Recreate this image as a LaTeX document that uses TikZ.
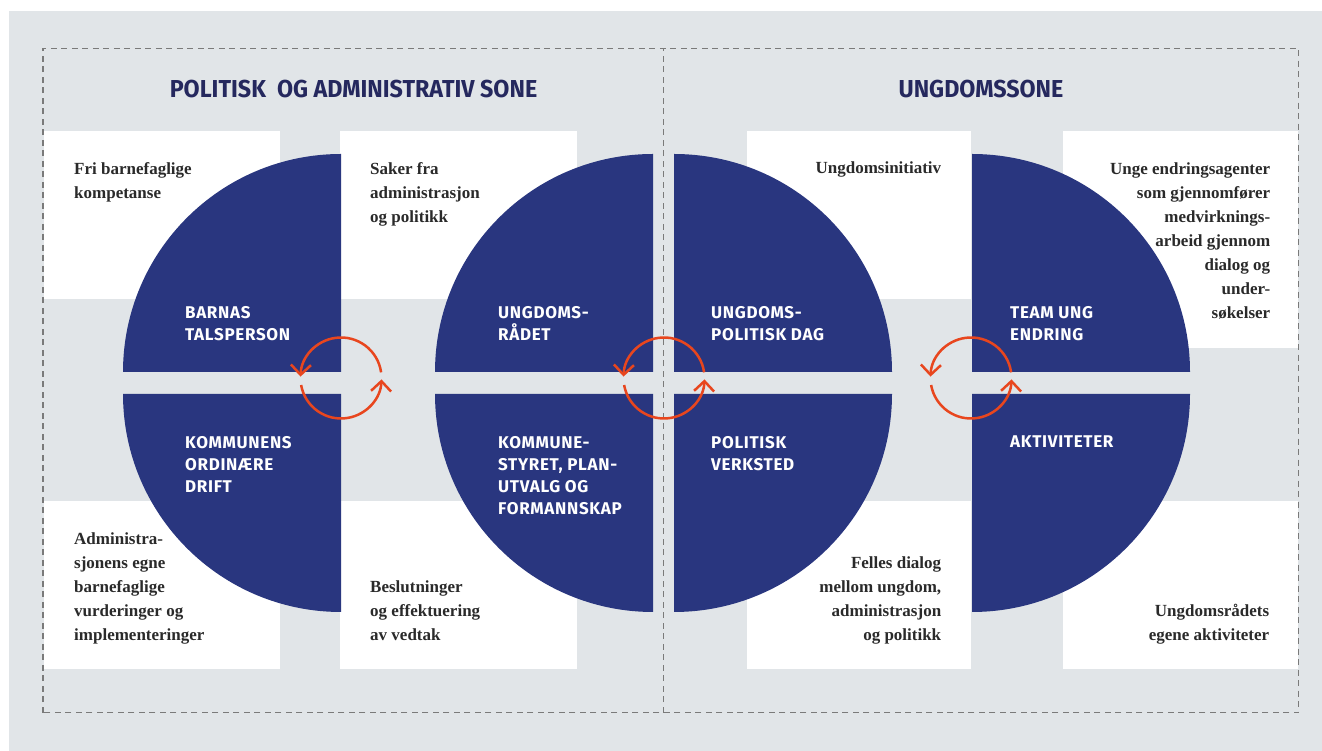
\documentclass[tikz,border=0pt]{standalone}
\usepackage{fontspec}
\setmainfont{Liberation Serif}
\newfontfamily\labelfont[LetterSpace=4]{Fira Sans}
\newfontfamily\headfont[FakeStretch=0.95]{Fira Sans}
\usetikzlibrary{arrows.meta}

\definecolor{zoneGray}{HTML}{E1E5E8}
\definecolor{circleBlue}{HTML}{29367F}
\definecolor{headBlue}{HTML}{25285E}
\definecolor{cycleOrange}{HTML}{E8461E}
\definecolor{dashGray}{HTML}{7A7A7A}
\definecolor{textDark}{HTML}{2A2A2A}

\tikzset{
  whitebox/.style={fill=white,draw=none,inner sep=0pt,anchor=north west},
  quarter/.style={fill=circleBlue},
  zoneframe/.style={draw=dashGray,line width=1.3pt,dash pattern=on 6pt off 4.5pt},
  zonetitle/.style={font=\headfont\bfseries\fontsize{24.5}{28}\selectfont,text=headBlue,anchor=base,inner sep=0pt},
  quartertext/.style={font=\labelfont\bfseries\fontsize{17}{22}\selectfont,text=white,align=left,
    anchor=north west,yshift=15.4pt,inner sep=0pt,execute at begin node={\rule{0pt}{15.4pt}}},
  boxtext/.style={font=\bfseries\fontsize{17}{24}\selectfont,text=textDark,inner sep=0pt,
    yshift=16.8pt,execute at begin node={\rule{0pt}{16.8pt}}},
  lefttext/.style={boxtext,align=left,anchor=north west},
  righttext/.style={boxtext,align=right,anchor=north east},
  cyclearrow/.style={draw=cycleOrange,line width=2.5pt,-{Straight Barb[length=10pt,width=20pt]}},
}

\begin{document}
\begin{tikzpicture}[x=1pt,y=1pt]%
  \useasboundingbox (0,0) rectangle (1322,751);
  \fill[zoneGray] (9,0) rectangle (1322,740);
  % zones
  \draw[zoneframe] (43,38.3) rectangle (1298.7,702.5);
  \draw[zoneframe] (663.3,38.3) -- (663.3,702.5);
  \node[zonetitle] (titlePol) at (353.5,653) {POLITISK\ \ OG ADMINISTRATIV SONE};
  \node[zonetitle] (titleUng) at (981,653) {UNGDOMSSONE};
  % white boxes
  \node[whitebox,minimum width=236pt,minimum height=168pt] (boxFri) at (44,620) {};
  \node[whitebox,minimum width=237pt,minimum height=168pt] (boxSaker) at (340,620) {};
  \node[whitebox,minimum width=236pt,minimum height=168pt] (boxAdm) at (44,250) {};
  \node[whitebox,minimum width=237pt,minimum height=168pt] (boxBesl) at (340,250) {};
  \node[whitebox,minimum width=224pt,minimum height=168pt] (boxInit) at (747,620) {};
  \node[whitebox,minimum width=235pt,minimum height=217pt] (boxAgent) at (1063,620) {};
  \node[whitebox,minimum width=224pt,minimum height=168pt] (boxDialog) at (747,250) {};
  \node[whitebox,minimum width=235pt,minimum height=168pt] (boxAktiv) at (1063,250) {};
  % quarter circles
  \foreach \cx/\cy/\a in {341/379/90, 341/357/180, 653/379/90, 653/357/180,
                          674/379/0, 674/357/270, 972/379/0, 972/357/270}
    \fill[quarter] (\cx,\cy) -- ++(\a:218) arc[start angle=\a,end angle=\a+90,radius=218] -- cycle;
  \node[quartertext] (lblBarnas) at (185,429) {BARNAS\\TALSPERSON};
  \node[quartertext] (lblDrift) at (185,299) {KOMMUNENS\\ORDINÆRE\\DRIFT};
  \node[quartertext] (lblRaadet) at (498,429) {UNGDOMS-\\RÅDET};
  \node[quartertext] (lblStyret) at (498,299) {KOMMUNE-\\STYRET, PLAN-\\UTVALG OG\\FORMANNSKAP};
  \node[quartertext] (lblDag) at (711,429) {UNGDOMS-\\POLITISK DAG};
  \node[quartertext] (lblVerksted) at (711,299) {POLITISK\\VERKSTED};
  \node[quartertext] (lblTeam) at (1010,429) {TEAM UNG\\ENDRING};
  \node[quartertext] (lblAktiv) at (1010,304) {AKTIVITETER};
  % box texts
  \node[lefttext] (txtFri) at ([xshift=30pt,yshift=-48pt]boxFri.north west) {Fri barnefaglige\\kompetanse};
  \node[lefttext] (txtSaker) at ([xshift=30pt,yshift=-48pt]boxSaker.north west) {Saker fra\\administrasjon\\og politikk};
  \node[lefttext] (txtAdm) at ([xshift=30pt,yshift=-48pt]boxAdm.north west) {Administra-\\sjonens egne\\barnefaglige\\vurderinger og\\implementeringer};
  \node[lefttext] (txtBesl) at ([xshift=30pt,yshift=-96pt]boxBesl.north west) {Beslutninger\\og effektuering\\av vedtak};
  \node[righttext] (txtInit) at ([xshift=-30pt,yshift=-42pt]boxInit.north east) {Ungdomsinitiativ};
  \node[righttext] (txtAgent) at ([xshift=-28pt,yshift=-48pt]boxAgent.north east) {Unge endringsagenter\\som gjennomfører\\medvirknings-\\arbeid gjennom\\dialog og\\under-\\søkelser};
  \node[righttext] (txtDialog) at ([xshift=-30pt,yshift=-72pt]boxDialog.north east) {Felles dialog\\mellom ungdom,\\administrasjon\\og politikk};
  \node[righttext] (txtAktiv) at ([xshift=-29pt,yshift=-120pt]boxAktiv.north east) {Ungdomsrådets\\egene aktiviteter};
  % cycles
  \coordinate (cycA) at (341,373);
  \coordinate (cycB) at (664,373);
  \coordinate (cycC) at (971,373);
  \foreach \c in {cycA,cycB,cycC} {
    \draw[cyclearrow] (\c) ++(8:40.5) arc[start angle=8,end angle=178,radius=40.5];
    \draw[cyclearrow] (\c) ++(190:40.5) arc[start angle=190,end angle=358,radius=40.5];
  }
\end{tikzpicture}
\end{document}
